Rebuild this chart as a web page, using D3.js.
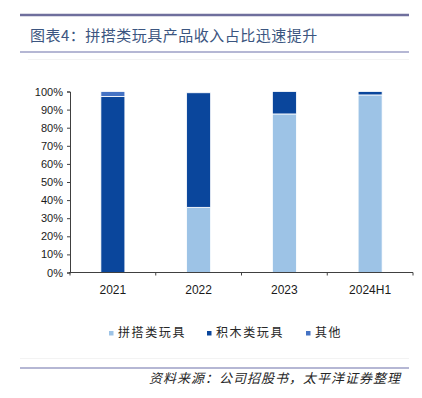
<!DOCTYPE html>
<html>
<head>
<meta charset="utf-8">
<script src="https://cdn.jsdelivr.net/npm/d3@7"></script>
<style>
body { margin: 0; background: #fff; }
svg { display: block; }
text { font-family: "Liberation Sans", Arial, sans-serif; }
.cjk { font-family: "Noto Sans CJK SC", sans-serif; }
</style>
</head>
<body>
<div id="chart"></div>
<script>
var categories = ["2021", "2022", "2023", "2024H1"];
var series = ["拼搭类玩具", "积木类玩具", "其他"];
var pinda = [0, 36.0, 87.6, 98.1];
var jimu = [97.3, 63.3, 12.4, 1.9];
var other = [2.7, 0, 0, 0];
var yTicks = [0, 10, 20, 30, 40, 50, 60, 70, 80, 90, 100];
var colors = ["#9dc3e6", "#0a469c", "#4472c4"];

var width = 422, height = 398;
var svg = d3.select("#chart").append("svg")
    .attr("width", width)
    .attr("height", height);

// header rules + title
svg.append("line").attr("x1", 20).attr("x2", 409).attr("y1", 15).attr("y2", 15)
    .attr("stroke", "#6f6f9d").attr("stroke-width", 2.5);
svg.append("text").attr("class", "cjk")
    .attr("x", 30).attr("y", 41)
    .attr("font-size", 15).attr("fill", "#3b5580")
    .attr("letter-spacing", 0.5)
    .text("图表4：拼搭类玩具产品收入占比迅速提升");
svg.append("line").attr("x1", 20).attr("x2", 409).attr("y1", 52).attr("y2", 52)
    .attr("stroke", "#b5b7d4").attr("stroke-width", 2);
svg.append("line").attr("x1", 28).attr("x2", 409).attr("y1", 59.5).attr("y2", 59.5)
    .attr("stroke", "#f3f3f3").attr("stroke-width", 1);

// stack data
var table = categories.map(function(c, i) {
    return {cat: c, "拼搭类玩具": pinda[i], "积木类玩具": jimu[i], "其他": other[i]};
});
var stacked = d3.stack().keys(series)(table);

var x = d3.scaleBand().domain(categories).range([70, 413]).paddingInner(0.72).paddingOuter(0.36);
var y = d3.scaleLinear().domain([0, 100]).range([272.5, 91.5]);

svg.selectAll("g.layer")
    .data(stacked)
    .enter()
    .append("g")
    .attr("class", "layer")
    .attr("fill", function(d, i) {return colors[i]})
    .selectAll("rect")
    .data(function(d) {return d})
    .enter()
    .append("rect")
    .attr("x", function(d) {return x(d.data.cat)})
    .attr("width", x.bandwidth())
    .attr("y", function(d) {return y(d[1])})
    .attr("height", function(d) {return Math.max(0, y(d[0]) - y(d[1]))})
    .attr("stroke", "#fff")
    .attr("stroke-width", 0.8)
    .attr("display", function(d) {return d[1] - d[0] > 0 ? null : "none"});

// y axis
var yAxis = d3.axisLeft(y).tickValues(yTicks).tickSize(3).tickPadding(4)
    .tickFormat(function(d) {return d + "%"});
var gy = svg.append("g").attr("transform", "translate(70,0)").call(yAxis);
gy.select(".domain").attr("stroke", "#404040");
gy.selectAll(".tick line").attr("stroke", "#404040");
gy.selectAll(".tick text").attr("font-size", 11).attr("fill", "#1a1a1a")
    .attr("font-family", "'Liberation Sans', Arial, sans-serif");

// x axis (ticks between categories)
var gx = svg.append("g").attr("transform", "translate(0,272.5)");
gx.append("line").attr("x1", 69).attr("x2", 413).attr("stroke", "#404040");
var step = x.step();
d3.range(categories.length + 1).forEach(function(i) {
    var xp = 70 + i * step;
    gx.append("line").attr("x1", xp).attr("x2", xp).attr("y1", 0).attr("y2", 3)
        .attr("stroke", "#404040");
});
gx.selectAll("text")
    .data(categories)
    .enter()
    .append("text")
    .attr("x", function(d) {return x(d) + x.bandwidth() / 2})
    .attr("y", 21)
    .attr("text-anchor", "middle")
    .attr("font-size", 12)
    .attr("fill", "#1a1a1a")
    .text(function(d) {return d});

// legend
var legendX = [109, 207, 306];
var lg = svg.selectAll("g.legend")
    .data(series)
    .enter()
    .append("g")
    .attr("class", "legend")
    .attr("transform", function(d, i) {return "translate(" + legendX[i] + ",331)"});
lg.append("rect").attr("x", 0).attr("y", 0).attr("width", 4.5).attr("height", 4.5)
    .attr("fill", function(d, i) {return colors[i]});
lg.append("text").attr("class", "cjk")
    .attr("x", 9).attr("y", 6)
    .attr("font-size", 12).attr("letter-spacing", 1.6)
    .attr("fill", "#262626")
    .text(function(d) {return d});

// footer
svg.append("line").attr("x1", 20).attr("x2", 409).attr("y1", 358.5).attr("y2", 358.5)
    .attr("stroke", "#f3f3f3").attr("stroke-width", 1);
svg.append("line").attr("x1", 20).attr("x2", 409).attr("y1", 368).attr("y2", 368)
    .attr("stroke", "#b5b7d4").attr("stroke-width", 2);
svg.append("text").attr("class", "cjk")
    .attr("x", 401).attr("y", 383)
    .attr("text-anchor", "end")
    .attr("font-size", 13).attr("font-style", "italic")
    .attr("letter-spacing", 1.0)
    .attr("fill", "#262626")
    .text("资料来源：公司招股书，太平洋证券整理");
</script>
</body>
</html>
